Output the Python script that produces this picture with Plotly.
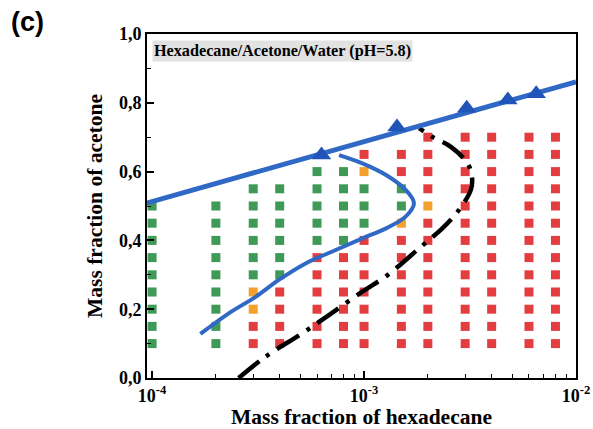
import plotly.graph_objects as go

# ---- data ----
rows = [0.10, 0.15, 0.20, 0.25, 0.30, 0.35, 0.40, 0.45, 0.50, 0.55, 0.60, 0.65, 0.70]
columns = [1e-4, 2e-4, 3e-4, 4e-4, 6e-4, 8e-4, 1e-3, 1.5e-3, 2e-3, 3e-3, 4e-3, 6e-3, 8e-3]
# state per column, from bottom row upward: G=green, O=orange, R=red
states = [
    "GGGGGGGGG",        # 1e-4
    "GGGGGGGGG",        # 2e-4
    "RROOGGGGGG",       # 3e-4
    "RRRRGGGGGG",       # 4e-4
    "RRRRRRGGGGG",      # 6e-4
    "RRRRRRGGGGG",      # 8e-4
    "RRRRRRRGGGOR",     # 1e-3
    "RRRRRRROGGRR",     # 1.5e-3
    "RRRRRRRRORRRR",    # 2e-3
    "RRRRRRRRRRRRR",    # 3e-3
    "RRRRRRRRRRRRR",    # 4e-3
    "RRRRRRRRRRRRR",    # 6e-3
    "RRRRRRRRRRRRR",    # 8e-3
]

binodal_x = [9.0e-5, 1e-2]
binodal_y = [0.505, 0.861]
tri_x = [6.3e-4, 1.43e-3, 3.05e-3, 4.77e-3, 6.49e-3]
tri_y = [0.648, 0.730, 0.784, 0.808, 0.826]

inner_x = [7.62e-4, 9.82e-4, 1.27e-3, 1.57e-3, 1.72e-3, 1.57e-3, 1.27e-3, 9.82e-4,
           7.35e-4, 5.30e-4, 3.96e-4, 3.08e-4, 2.30e-4, 1.69e-4]
inner_y = [0.648, 0.624, 0.590, 0.547, 0.508, 0.469, 0.435, 0.406,
           0.372, 0.333, 0.285, 0.236, 0.188, 0.128]

black_x = [2.56e-4, 3.43e-4, 5.11e-4, 6.83e-4, 9.82e-4, 1.29e-3, 1.82e-3, 2.34e-3,
           2.76e-3, 3.19e-3, 3.23e-3, 3.08e-3, 2.57e-3, 2.10e-3, 1.82e-3]
black_y = [0.0, 0.062, 0.130, 0.183, 0.251, 0.299, 0.377, 0.435,
           0.483, 0.547, 0.585, 0.624, 0.672, 0.701, 0.726]

colors = {"G": "#3f9a58", "O": "#f5a02c", "R": "#e43d3f"}

fig = go.Figure()

for key in ["G", "O", "R"]:
    xs, ys = [], []
    for cx, st in zip(columns, states):
        for i, s in enumerate(st):
            if s == key:
                xs.append(cx)
                ys.append(rows[i])
    fig.add_trace(go.Scatter(x=xs, y=ys, mode="markers",
                             marker=dict(symbol="square", size=9, color=colors[key],
                                         line=dict(width=0)),
                             showlegend=False, hoverinfo="skip"))

fig.add_trace(go.Scatter(x=black_x, y=black_y, mode="lines",
                         line=dict(color="black", width=4.5, dash="26px,9px,4px,9px", shape="spline"),
                         showlegend=False))
fig.add_trace(go.Scatter(x=inner_x, y=inner_y, mode="lines",
                         line=dict(color="#3068c6", width=4, shape="spline"),
                         showlegend=False))
fig.add_trace(go.Scatter(x=binodal_x, y=binodal_y, mode="lines",
                         line=dict(color="#3068c6", width=5),
                         showlegend=False))
fig.add_trace(go.Scatter(x=tri_x, y=tri_y, mode="markers",
                         marker=dict(symbol="triangle-up", size=17, color="#1f54b8"),
                         showlegend=False))

serif = "Liberation Serif"
fig.update_layout(
    width=593, height=429,
    margin=dict(l=147, r=17, t=34, b=51),
    paper_bgcolor="white", plot_bgcolor="white",
    separators=",.",
    font=dict(family=serif, color="black"),
    xaxis=dict(
        type="log", range=[-4.024, -2.0], automargin=False,
        tickvals=[1e-4, 1e-3, 1e-2],
        ticktext=["<b>10<sup>-4</sup></b>", "<b>10<sup>-3</sup></b>", "<b>10<sup>-2</sup></b>"],
        ticks="inside", ticklen=7, tickwidth=1.5, tickcolor="black",
        minor=dict(ticks="inside", ticklen=4, tickwidth=1.2, tickcolor="black",
                   tickvals=[k * 10 ** e for e in (-4, -3) for k in range(2, 10)]),
        showline=True, linecolor="black", linewidth=2, mirror=True,
        showgrid=False, zeroline=False,
        tickfont=dict(family=serif, size=18, color="black"),
        title=dict(text="<b>Mass fraction of hexadecane</b>", font=dict(family=serif, size=21.5), standoff=4),
    ),
    yaxis=dict(
        range=[0, 1.0], tickvals=[0, 0.2, 0.4, 0.6, 0.8, 1.0], tickformat=".1f",
        automargin=False,
        ticks="inside", ticklen=7, tickwidth=1.5, tickcolor="black",
        minor=dict(ticks="inside", ticklen=4, tickwidth=1.2, tickcolor="black",
                   tickvals=[0.1, 0.3, 0.5, 0.7, 0.9]),
        showline=True, linecolor="black", linewidth=2, mirror=True,
        showgrid=False, zeroline=False,
        tickfont=dict(family=serif, size=18, color="black", weight="bold"),
        title=dict(text="<b>Mass fraction of acetone</b>", font=dict(family=serif, size=21.5), standoff=10),
    ),
    annotations=[
        dict(text="<b>Hexadecane/Acetone/Water (pH=5.8)</b>", xref="paper", yref="paper",
             x=0.011, y=0.982, xanchor="left", yanchor="top", showarrow=False,
             font=dict(family=serif, size=16.2, color="black"), bgcolor="#e2e2e2",
             borderpad=1),
        dict(text="<b>(c)</b>", xref="paper", yref="paper", x=-0.322, y=1.085,
             xanchor="left", yanchor="top", showarrow=False,
             font=dict(family="Liberation Sans", size=27, color="black")),
    ],
)

fig.write_html("out.html")
